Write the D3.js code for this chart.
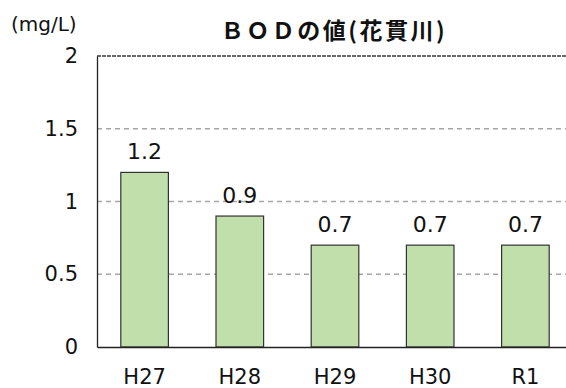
<!DOCTYPE html>
<html>
<head>
<meta charset="utf-8">
<script src="https://cdn.jsdelivr.net/npm/d3@7"></script>
<style>
  html, body { margin: 0; padding: 0; background: #fff; }
  svg { display: block; }
  text { font-family: "DejaVu Sans", "Noto Sans CJK JP", sans-serif; fill: #111; }
</style>
</head>
<body>
<svg id="chart" width="566" height="388"></svg>
<script>
// BOD readings for the Hanuki River by fiscal year
const years = ["H27", "H28", "H29", "H30", "R1"];
const bod = [1.2, 0.9, 0.7, 0.7, 0.7];
const yTicks = [0, 0.5, 1, 1.5, 2];
const yTickLabels = ["0", "0.5", "1", "1.5", "2"];
const title = "ＢＯＤの値(花貫川)";
const unit = "(mg/L)";

const svg = d3.select("#chart");
const plot = { left: 97, top: 56, width: 476, height: 291 };

const x = d3.scaleBand().domain(years).range([plot.left, plot.left + plot.width]).paddingInner(0.5).paddingOuter(0.25);
const y = d3.scaleLinear().domain([0, 2]).range([plot.top + plot.height, plot.top]);

// dashed horizontal gridlines
svg.append("g")
  .selectAll("line")
  .data(yTicks.filter(v => v > 0 && v < 2))
  .join("line")
  .attr("x1", plot.left).attr("x2", plot.left + plot.width)
  .attr("y1", d => y(d)).attr("y2", d => y(d))
  .attr("stroke", "#a6a6a6").attr("stroke-width", 1.3)
  .attr("stroke-dasharray", "5,4");

// top border of the plot area
svg.append("line")
  .attr("x1", plot.left).attr("x2", plot.left + plot.width)
  .attr("y1", y(2)).attr("y2", y(2))
  .attr("stroke", "#3a3a3a").attr("stroke-width", 1.3)
  .attr("stroke-dasharray", "4,1");

// bars
svg.append("g")
  .selectAll("rect")
  .data(bod)
  .join("rect")
  .attr("x", (d, i) => x(years[i]))
  .attr("y", d => y(d))
  .attr("width", x.bandwidth())
  .attr("height", d => y(0) - y(d))
  .attr("fill", "#c0dfab")
  .attr("stroke", "#333")
  .attr("stroke-width", 1.2);

// value labels above bars
svg.append("g")
  .selectAll("text")
  .data(bod)
  .join("text")
  .attr("x", (d, i) => x(years[i]) + x.bandwidth() / 2)
  .attr("y", d => y(d) - 13)
  .attr("text-anchor", "middle")
  .attr("font-size", 22)
  .text(d => d.toFixed(1));

// y axis
const yAxis = d3.axisLeft(y).tickValues(yTicks).tickFormat((d, i) => yTickLabels[i]).tickSize(0).tickPadding(19);
const gy = svg.append("g").attr("transform", `translate(${plot.left},0)`).call(yAxis);
gy.select(".domain").attr("stroke", "#222").attr("stroke-width", 1.3);
gy.selectAll("text").attr("font-size", 21).style("font-family", "'DejaVu Sans', sans-serif").attr("fill", "#111");

// x axis
const xAxis = d3.axisBottom(x).tickSize(0).tickPadding(22);
const gx = svg.append("g").attr("transform", `translate(0,${y(0)})`).call(xAxis);
gx.select(".domain").attr("stroke", "#222").attr("stroke-width", 1.3);
gx.selectAll("text").attr("font-size", 21).style("font-family", "'DejaVu Sans', sans-serif").attr("fill", "#111");

// unit label above the y axis
svg.append("text").attr("x", 11).attr("y", 31)
  .style("font-family", "'DejaVu Sans', sans-serif")
  .style("font-size", "20px")
  .text(unit);

// chart title
svg.append("text").attr("x", 334).attr("y", 39).attr("text-anchor", "middle")
  .attr("font-size", 23).attr("font-weight", "bold").attr("letter-spacing", 2.5)
  .style("font-family", "'Noto Sans CJK JP', sans-serif")
  .text(title);
</script>
</body>
</html>
